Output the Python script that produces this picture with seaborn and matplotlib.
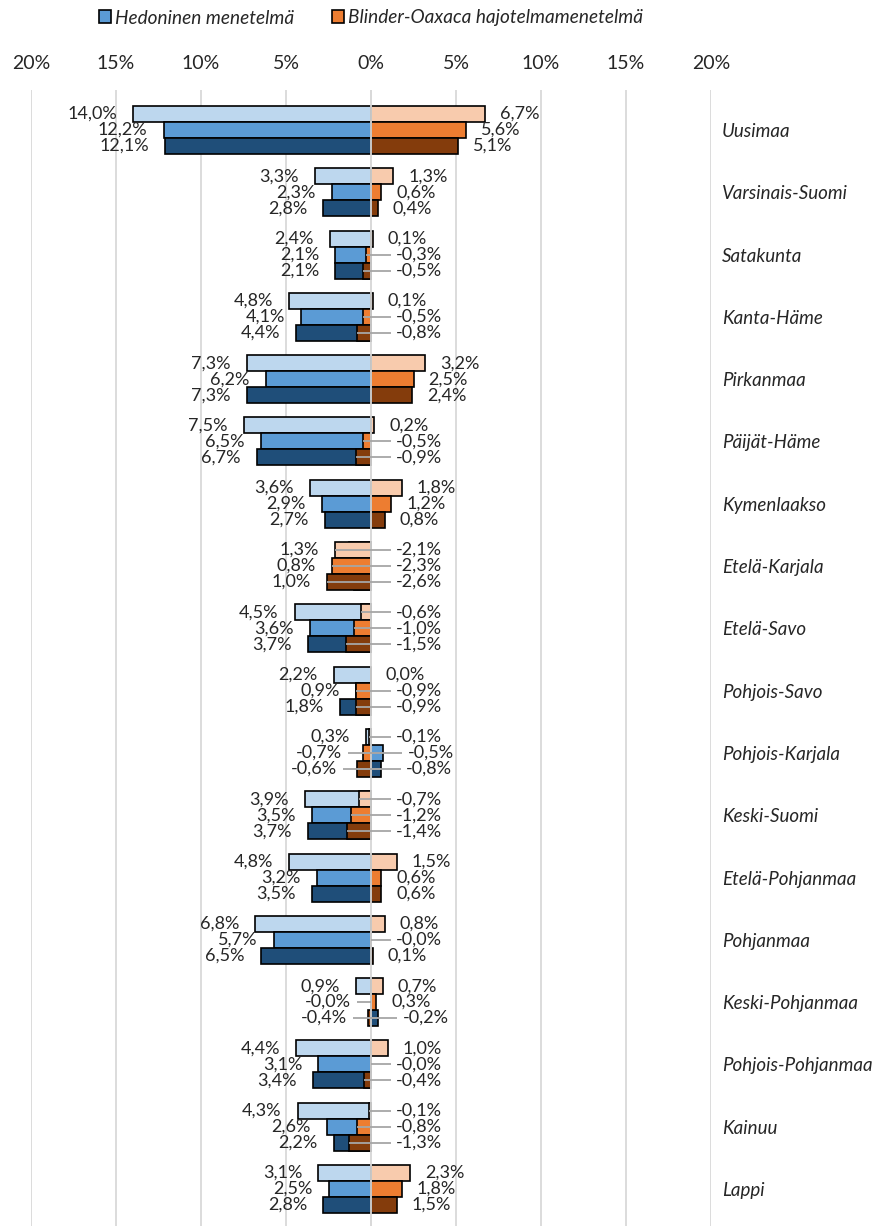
import math
import matplotlib
matplotlib.use("Agg")
import matplotlib.pyplot as plt
from matplotlib.patches import Patch
import pandas as pd
import seaborn as sns

# Maakunnat (ylhäältä alas)
alueet = [
    "Uusimaa", "Varsinais-Suomi", "Satakunta", "Kanta-Häme", "Pirkanmaa",
    "Päijät-Häme", "Kymenlaakso", "Etelä-Karjala", "Etelä-Savo", "Pohjois-Savo",
    "Pohjois-Karjala", "Keski-Suomi", "Etelä-Pohjanmaa", "Pohjanmaa",
    "Keski-Pohjanmaa", "Pohjois-Pohjanmaa", "Kainuu", "Lappi",
]

# Hedoninen menetelmä, kolme estimaattia per maakunta (%)
hed_1 = [14.0, 3.3, 2.4, 4.8, 7.3, 7.5, 3.6, 1.3, 4.5, 2.2, 0.3, 3.9, 4.8, 6.8, 0.9, 4.4, 4.3, 3.1]
hed_2 = [12.2, 2.3, 2.1, 4.1, 6.2, 6.5, 2.9, 0.8, 3.6, 0.9, -0.7, 3.5, 3.2, 5.7, -0.0, 3.1, 2.6, 2.5]
hed_3 = [12.1, 2.8, 2.1, 4.4, 7.3, 6.7, 2.7, 1.0, 3.7, 1.8, -0.6, 3.7, 3.5, 6.5, -0.4, 3.4, 2.2, 2.8]

# Blinder-Oaxaca hajotelmamenetelmä, kolme estimaattia per maakunta (%)
bo_1 = [6.7, 1.3, 0.1, 0.1, 3.2, 0.2, 1.8, -2.1, -0.6, 0.0, -0.1, -0.7, 1.5, 0.8, 0.7, 1.0, -0.1, 2.3]
bo_2 = [5.6, 0.6, -0.3, -0.5, 2.5, -0.5, 1.2, -2.3, -1.0, -0.9, -0.5, -1.2, 0.6, -0.0, 0.3, -0.0, -0.8, 1.8]
bo_3 = [5.1, 0.4, -0.5, -0.8, 2.4, -0.9, 0.8, -2.6, -1.5, -0.9, -0.8, -1.4, 0.6, 0.1, -0.2, -0.4, -1.3, 1.5]

sarjat = ["1", "2", "3"]
x_ticks = [-20, -15, -10, -5, 0, 5, 10, 15, 20]

sinisävyt = ["#BDD7EE", "#5B9BD5", "#1F4E79"]
oranssisävyt = ["#F8CBAD", "#ED7D31", "#843C0C"]

hed = [hed_1, hed_2, hed_3]
bo = [bo_1, bo_2, bo_3]

# Pitkä taulukko: hedoninen piirretään vasemmalle (etumerkki käännetty)
rivit_h, rivit_b = [], []
for s, hv, bv in zip(sarjat, hed, bo):
    for a, h, b in zip(alueet, hv, bv):
        rivit_h.append({"alue": a, "sarja": s, "arvo": -h})
        rivit_b.append({"alue": a, "sarja": s, "arvo": b})
df_h = pd.DataFrame(rivit_h)
df_b = pd.DataFrame(rivit_b)

sns.set_style("white")
plt.rcParams["font.family"] = ["Lato", "DejaVu Sans"]
FS_ARVO = 13
FS_ALUE = 13.5
FS_AKSELI = 14
FS_SELITE = 13.7

fig = plt.figure(figsize=(8.82, 12.26), dpi=100)
ax = fig.add_axes([31 / 882, 0, 680 / 882, 1 - 90 / 1226])

LEVEYS = 0.77
common = dict(y="alue", x="arvo", hue="sarja", order=alueet, hue_order=sarjat,
              orient="h", width=LEVEYS, dodge=True, errorbar=None,
              edgecolor="black", linewidth=1.2, legend=False, ax=ax, saturation=1)
sns.barplot(data=df_h, palette=sinisävyt, **common)
sns.barplot(data=df_b, palette=oranssisävyt, **common)

ax.set_xlim(-20, 20)
ax.set_ylim(17.594, -0.642)
ax.set_xlabel("")
ax.set_ylabel("")
for sp in ax.spines.values():
    sp.set_visible(False)

ax.set_xticks(x_ticks)
ax.set_xticklabels([f"{abs(t)}%" for t in x_ticks], fontsize=FS_AKSELI)
ax.xaxis.set_ticks_position("top")
ax.tick_params(axis="x", length=0, pad=13)
ax.grid(axis="x", color="#D9D9D9", lw=1.3)
ax.grid(axis="y", visible=False)
ax.set_axisbelow(True)
ax.axvline(0, color="#D9D9D9", lw=1.3, zorder=6)

ax.yaxis.set_ticks_position("right")
ax.tick_params(axis="y", length=0, pad=8)
ax.set_yticks(range(len(alueet)))
ax.set_yticklabels(alueet, fontsize=FS_ALUE, fontstyle="italic")


def negatiivinen(v):
    return v < 0 or (v == 0 and math.copysign(1.0, v) < 0)


def muotoile(v):
    return f"{v:.1f}".replace(".", ",") + "%"


palkki = LEVEYS / 3
VIIVA = "#A6A6A6"
for j in range(3):
    for i in range(len(alueet)):
        h = hed[j][i]
        b = bo[j][i]
        y = i + (j - 1) * palkki
        xh = -h
        vasen = min(xh, b, 0.0)
        oikea = max(xh, b, 0.0)

        # hedonisen menetelmän arvo vasemmalle
        if negatiivinen(h):
            xt = vasen - 1.2
            ax.plot([xt + 0.35, xh], [y, y], color=VIIVA, lw=1.3, zorder=7,
                    solid_capstyle="butt")
        else:
            xt = vasen - 0.95
        ax.text(xt, y, muotoile(h), ha="right", va="center", fontsize=FS_ARVO, zorder=8)

        # Blinder-Oaxaca -arvo oikealle
        if negatiivinen(b):
            xt = oikea + 1.45
            ax.plot([b, xt - 0.3], [y, y], color=VIIVA, lw=1.3, zorder=7,
                    solid_capstyle="butt")
        else:
            xt = oikea + 0.88
        ax.text(xt, y, muotoile(b), ha="left", va="center", fontsize=FS_ARVO, zorder=8)

kahvat = [
    Patch(facecolor="#5B9BD5", edgecolor="black", lw=1.2, label="Hedoninen menetelmä"),
    Patch(facecolor="#ED7D31", edgecolor="black", lw=1.2, label="Blinder-Oaxaca hajotelmamenetelmä"),
]
fig.legend(handles=kahvat, loc="center left", bbox_to_anchor=(89 / 882, 1 - 18 / 1226),
           ncol=2, frameon=False, borderpad=0, handlelength=0.65, handleheight=0.65,
           handletextpad=0.2, columnspacing=2.0, prop={"size": FS_SELITE, "style": "italic"})

fig.savefig("out.png", dpi=100)
